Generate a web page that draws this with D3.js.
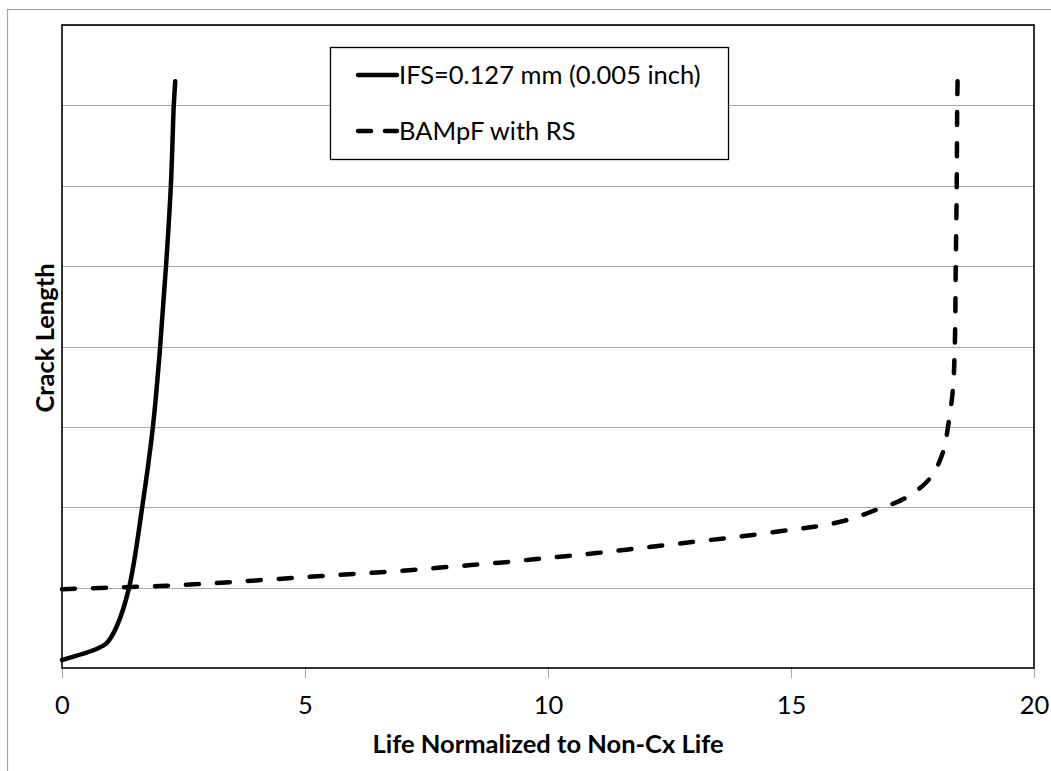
<!DOCTYPE html>
<html><head><meta charset="utf-8">
<script src="https://cdn.jsdelivr.net/npm/d3@7"></script>
<style>body{margin:0;background:#fff}svg{display:block}text{font-family:Lato,"Noto Sans",sans-serif;fill:#000}</style>
</head><body><svg id="c" width="1051" height="771"></svg>
<script>
// Data
const xTicks = [0, 5, 10, 15, 20];
const yGrid = [1, 2, 3, 4, 5, 6, 7, 8];
const seriesNames = ["IFS=0.127 mm (0.005 inch)", "BAMpF with RS"];
const ifsLife = [0, 0.72, 0.92, 1.12, 1.38, 1.65, 1.87, 2.02, 2.14, 2.24, 2.30, 2.33];
const ifsCrack = [0.1, 0.24, 0.31, 0.51, 1.0, 2.0, 3.0, 4.0, 5.0, 6.0, 7.0, 7.3];
const bamLife = [0, 1, 2, 3, 4, 5, 6, 7, 8, 9, 10, 11, 12, 13, 14, 15, 15.6, 16.15, 16.76, 17.34, 17.86, 18.13, 18.23, 18.33, 18.37, 18.39, 18.41, 18.42, 18.43];
const bamCrack = [0.98, 1.0, 1.02, 1.05, 1.09, 1.13, 1.17, 1.21, 1.26, 1.31, 1.37, 1.43, 1.50, 1.57, 1.64, 1.72, 1.77, 1.84, 1.97, 2.11, 2.36, 2.69, 3.0, 3.46, 4.0, 5.0, 6.0, 7.0, 7.38];
const xTitle = "Life Normalized to Non-Cx Life";
const yTitle = "Crack Length";

const svg = d3.select("#c");
const L = 62, R = 1034, T = 25, B = 668;
const x = d3.scaleLinear().domain([0, 20]).range([L, R]);
const y = d3.scaleLinear().domain([0, 8]).range([B, T]);

// outer chart border
svg.append("rect").attr("x", 7.5).attr("y", 9.5).attr("width", 1200).attr("height", 1000)
  .attr("fill", "none").attr("stroke", "#a6a6a6").attr("stroke-width", 1.2);

// gridlines
svg.append("g").selectAll("line").data(yGrid).join("line")
  .attr("x1", L).attr("x2", R).attr("y1", d => Math.round(y(d)) + 0.5).attr("y2", d => Math.round(y(d)) + 0.5)
  .attr("stroke", "#a6a6a6").attr("stroke-width", 1);

// x axis
const xAxis = d3.axisBottom(x).tickValues(xTicks).tickSize(10).tickPadding(18).tickFormat(d3.format("d"));
const gx = svg.append("g").attr("transform", `translate(0,${B})`).call(xAxis);
gx.select(".domain").remove();
gx.selectAll(".tick line").attr("stroke", "#a6a6a6");
gx.selectAll(".tick text").style("font-size", "25.5px").style("font-family", "Lato");

// plot border
svg.append("rect").attr("x", L).attr("y", T).attr("width", R - L).attr("height", B - T)
  .attr("fill", "none").attr("stroke", "#000").attr("stroke-width", 1.6);

// lines
const line = d3.line().x(d => x(d[0])).y(d => y(d[1])).curve(d3.curveCatmullRom.alpha(0.5));
const ifs = ifsLife.map((v, i) => [v, ifsCrack[i]]);
const bam = bamLife.map((v, i) => [v, bamCrack[i]]);
svg.append("path").datum(ifs).attr("d", line).attr("fill", "none").attr("stroke", "#000")
  .attr("stroke-width", 4.5).attr("stroke-linecap", "round").attr("stroke-linejoin", "round");
svg.append("path").datum(bam).attr("d", line).attr("fill", "none").attr("stroke", "#000")
  .attr("stroke-width", 4.5).attr("stroke-linecap", "round").attr("stroke-dasharray", "13,18");

// axis titles
svg.append("text").attr("x", (L + R) / 2).attr("y", 753).attr("text-anchor", "middle")
  .style("font-size", "25.5px").style("font-weight", "bold").text(xTitle);
svg.append("text").attr("transform", `translate(54,338) rotate(-90)`).attr("text-anchor", "middle")
  .style("font-size", "25.5px").style("font-weight", "bold").text(yTitle);

// legend
const lg = svg.append("g");
lg.append("rect").attr("x", 330.5).attr("y", 47.5).attr("width", 398).attr("height", 112)
  .attr("fill", "#fff").attr("stroke", "#000").attr("stroke-width", 1.3);
const rows = [{name: seriesNames[0], y: 75, dash: null}, {name: seriesNames[1], y: 131, dash: "13,14"}];
rows.forEach(r => {
  lg.append("line").attr("x1", 358).attr("x2", 397).attr("y1", r.y).attr("y2", r.y)
    .attr("stroke", "#000").attr("stroke-width", 4.5).attr("stroke-linecap", "round")
    .attr("stroke-dasharray", r.dash);
  lg.append("text").attr("x", 399).attr("y", r.y + 9).style("font-size", "25.5px").text(r.name);
});
</script></body></html>
